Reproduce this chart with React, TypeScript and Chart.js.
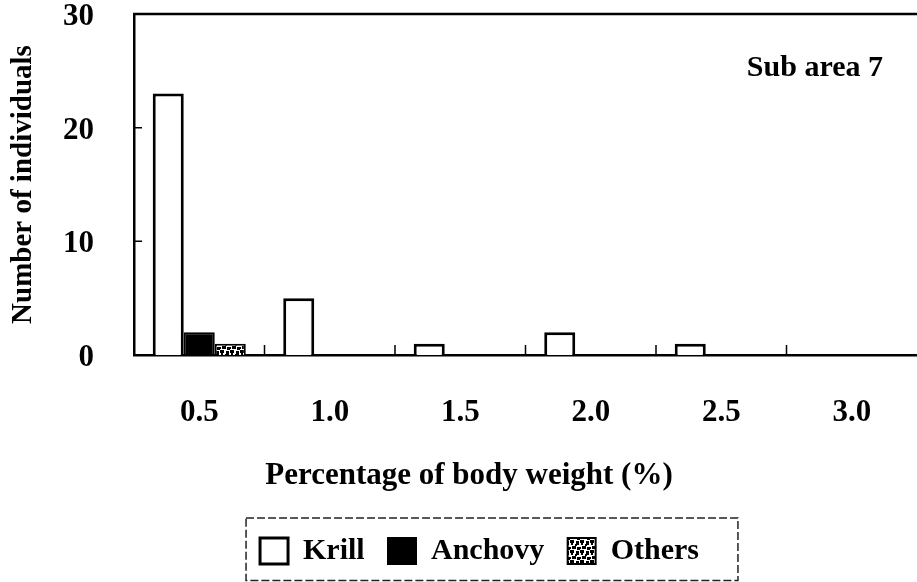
import React, { useEffect, useRef } from 'react';
import { Chart, registerables } from 'chart.js';

Chart.register(...registerables);

// ---- data ----
const categories = ['0.5', '1.0', '1.5', '2.0', '2.5', '3.0'];
const krill = [23, 5, 1, 2, 1, 0];
const anchovy = [2, 0, 0, 0, 0, 0];
const others = [1, 0, 0, 0, 0, 0];
const seriesNames = ['Krill', 'Anchovy', 'Others'];
const yMin = 0;
const yMax = 30;
const yStep = 10;
const yTitle = 'Number of individuals';
const xTitle = 'Percentage of body weight (%)';
const panelLabel = 'Sub area 7';

const FONT = "'Liberation Serif', 'Times New Roman', Times, serif";

function makeSpongePattern(): CanvasPattern | string {
  const c = document.createElement('canvas');
  c.width = 10;
  c.height = 10;
  const g = c.getContext('2d');
  if (!g) return '#444';
  g.fillStyle = '#fff';
  g.fillRect(0, 0, 10, 10);
  g.fillStyle = '#000';
  g.fillRect(0, 0, 4, 3);
  g.fillRect(1, 3, 2, 2);
  g.fillRect(6, 1, 3, 4);
  g.fillRect(5, 4, 2, 2);
  g.fillRect(2, 6, 4, 3);
  g.fillRect(7, 7, 3, 3);
  g.fillRect(0, 7, 1, 2);
  const p = g.createPattern(c, 'repeat');
  return p || '#444';
}

const decorPlugin = {
  id: 'decor',
  afterLayout(chart: any) {
    const lg = chart.legend;
    if (lg) {
      lg.left += 21;
      lg.right += 21;
    }
    const tb = chart.titleBlock;
    if (tb) {
      tb.left += 10.5;
      tb.right += 10.5;
    }
  },
  afterDatasetsDraw(chart: any) {
    const { ctx, chartArea: a, scales } = chart;
    const x = scales.x;
    const y = scales.y;
    ctx.save();
    ctx.strokeStyle = '#000';
    // top frame line
    ctx.lineWidth = 2.5;
    ctx.beginPath();
    ctx.moveTo(a.left - 1, a.top);
    ctx.lineTo(a.right, a.top);
    ctx.stroke();
    // inward tick marks on x axis at category boundaries
    ctx.lineWidth = 1.5;
    ctx.beginPath();
    for (let i = 1; i < categories.length; i++) {
      const px = x.getPixelForValue(i - 0.5);
      ctx.moveTo(px, a.bottom);
      ctx.lineTo(px, a.bottom - 10);
    }
    // inward tick marks on y axis
    y.ticks.forEach((t: any) => {
      if (t.value > yMin && t.value < yMax) {
        const py = y.getPixelForValue(t.value);
        ctx.moveTo(a.left, py);
        ctx.lineTo(a.left + 8, py);
      }
    });
    ctx.stroke();
    ctx.restore();
  },
  afterDraw(chart: any) {
    const { ctx, chartArea: a } = chart;
    ctx.save();
    // panel label
    ctx.fillStyle = '#000';
    ctx.font = `bold 30px ${FONT}`;
    ctx.textAlign = 'right';
    ctx.textBaseline = 'alphabetic';
    ctx.fillText(panelLabel, a.right - 34, a.top + 62);
    // dashed legend frame
    const lg = chart.legend;
    const hb = lg && lg.legendHitBoxes;
    if (hb && hb.length) {
      const last = hb[hb.length - 1];
      const l = hb[0].left - 14;
      const r = last.left + last.width + 39;
      const t = hb[0].top - 18;
      const b = chart.height - 1.5;
      ctx.strokeStyle = '#222';
      ctx.lineWidth = 1.5;
      ctx.setLineDash([8, 3]);
      ctx.strokeRect(l, t, r - l, b - t);
    }
    ctx.restore();
  },
};

export default function App() {
  const ref = useRef<HTMLCanvasElement | null>(null);

  useEffect(() => {
    if (!ref.current) return;
    const pattern = makeSpongePattern();
    const tickFont = { family: FONT, size: 31, weight: 'bold' as const, lineHeight: 1 };
    const chart = new Chart(ref.current, {
      type: 'bar',
      data: {
        labels: categories,
        datasets: [
          {
            label: seriesNames[0],
            data: krill,
            backgroundColor: '#ffffff',
            borderColor: '#000000',
            borderWidth: 3,
          },
          {
            label: seriesNames[1],
            data: anchovy,
            backgroundColor: '#000000',
            borderColor: '#000000',
            borderWidth: 2,
          },
          {
            label: seriesNames[2],
            data: others,
            backgroundColor: pattern as any,
            borderColor: '#000000',
            borderWidth: 2,
          },
        ],
      },
      options: {
        responsive: false,
        animation: false,
        events: [],
        layout: { padding: { top: 14, left: 0, right: 0, bottom: 6 } },
        datasets: { bar: { categoryPercentage: 0.713, barPercentage: 1.0 } },
        scales: {
          x: {
            type: 'category',
            grid: { display: false, drawTicks: false },
            border: { display: true, color: '#000', width: 2.5 },
            ticks: {
              color: '#000',
              font: tickFont,
              padding: 42.5,
              maxRotation: 0,
              autoSkip: false,
            },
            afterFit(s: any) {
              s.height = 100;
            },
          },
          y: {
            min: yMin,
            max: yMax,
            grid: { display: false, drawTicks: false },
            border: { display: true, color: '#000', width: 2.5 },
            ticks: { stepSize: yStep, color: '#000', font: tickFont, padding: 40, labelOffset: 3 },
            title: {
              display: true,
              text: yTitle,
              color: '#000',
              font: { family: FONT, size: 29, weight: 'bold', lineHeight: 1.2 },
              padding: { top: 6, bottom: 0 },
            },
            afterFit(s: any) {
              s.width = 134;
              s.paddingTop = 0;
              s.paddingBottom = 0;
            },
          },
        },
        plugins: {
          legend: {
            display: true,
            position: 'bottom',
            labels: {
              boxWidth: 28,
              boxHeight: 26,
              padding: 23.3,
              color: '#000',
              font: { family: FONT, size: 30, weight: 'bold' },
            },
          },
          title: {
            display: true,
            text: xTitle,
            position: 'bottom',
            weight: 500,
            color: '#000',
            font: { family: FONT, size: 31, weight: 'bold', lineHeight: 1.2 },
            padding: { top: 2.4, bottom: 18.1 },
          } as any,
          tooltip: { enabled: false },
        },
      },
      plugins: [decorPlugin],
    });
    return () => chart.destroy();
  }, []);

  return (
    <div
      style={{
        position: 'fixed',
        left: 0,
        top: 0,
        width: 917,
        height: 582,
        background: '#ffffff',
        overflow: 'hidden',
      }}
    >
      <canvas ref={ref} width={917} height={582} style={{ display: 'block' }} />
    </div>
  );
}
